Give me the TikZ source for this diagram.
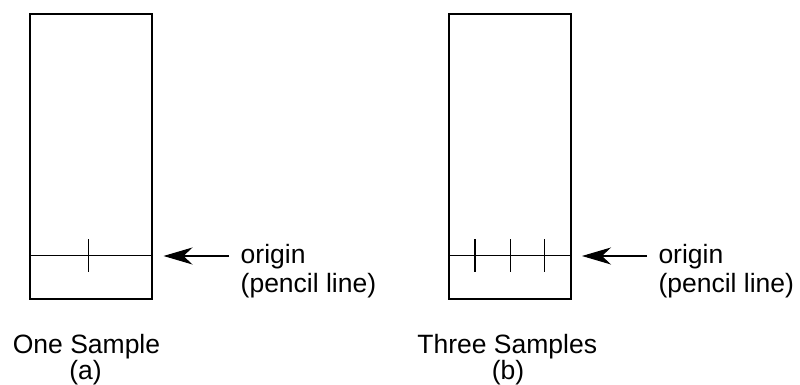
\documentclass[tikz,border=0pt]{standalone}
\usepackage{fontspec}
\setmainfont{Liberation Sans}
\usetikzlibrary{arrows.meta}
\begin{document}
\begin{tikzpicture}[x=1pt,y=-1pt,
  plate/.style={draw, line width=2pt, minimum width=122pt, minimum height=285pt, inner sep=0pt},
  originline/.style={line width=1.1pt},
  spot/.style={line width=1.4pt},
  pointer/.style={line width=1.1pt, -{Stealth[length=29pt,width=17pt,inset=9pt]}},
  sidetext/.style={inner sep=0pt, anchor=base west, font=\fontsize{26.5}{29}\selectfont},
  captext/.style={inner sep=0pt, anchor=base, font=\fontsize{26.5}{29}\selectfont}]
\useasboundingbox (0,0) rectangle (800,385);
% panel (a)
\node[plate] (ra) at (91,156.5) {};
\coordinate (la) at (30,255.5);
\coordinate (lae) at (152,255.5);
\draw[originline] (la) -- (lae);
\coordinate (sa1) at (88.7,239);
\coordinate (sa2) at (88.7,272);
\draw[spot] (sa1) -- (sa2);
\coordinate (taila) at (229,256);
\coordinate (tipa) at (163.5,256);
\draw[pointer] (taila) -- (tipa);
\node[sidetext] (oa) at (240.5,263.3) {origin};
\node[sidetext] (pa) at (240.5,292) {(pencil line)};
\node[captext] (ca) at (86.5,353.3) {One Sample};
\node[captext] (ka) at (85.5,379) {(a)};
% panel (b)
\node[plate] (rb) at (510.3,156.5) {};
\coordinate (lb) at (449,255.5);
\coordinate (lbe) at (571.7,255.5);
\draw[originline] (lb) -- (lbe);
\coordinate (sb1) at (475,239);
\coordinate (sb2) at (475,272);
\draw[spot] (sb1) -- (sb2);
\coordinate (sc1) at (510.3,239);
\coordinate (sc2) at (510.3,272);
\draw[spot] (sc1) -- (sc2);
\coordinate (sd1) at (544.7,239);
\coordinate (sd2) at (544.7,272);
\draw[spot] (sd1) -- (sd2);
\coordinate (tailb) at (647,256);
\coordinate (tipb) at (582,256);
\draw[pointer] (tailb) -- (tipb);
\node[sidetext] (ob) at (658.3,263.3) {origin};
\node[sidetext] (pb) at (658.3,292) {(pencil line)};
\node[captext] (cb) at (507.2,353.3) {Three Samples};
\node[captext] (kb) at (508,379) {(b)};
\end{tikzpicture}
\end{document}
